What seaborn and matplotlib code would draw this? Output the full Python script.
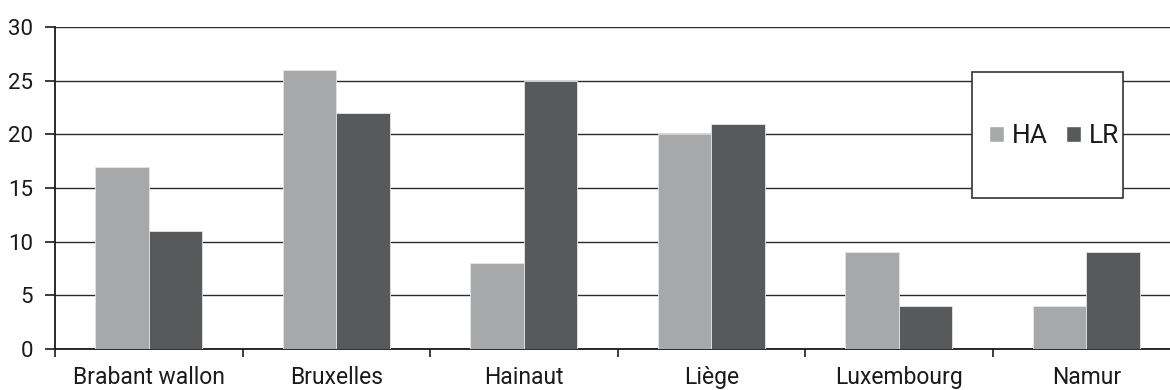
import matplotlib
matplotlib.use("Agg")
import matplotlib.pyplot as plt
import seaborn as sns
import pandas as pd
from matplotlib.patches import Rectangle

provinces = ["Brabant wallon", "Bruxelles", "Hainaut", "Liège", "Luxembourg", "Namur"]
ha_values = [17, 26, 8, 20, 9, 4]
lr_values = [11, 22, 25, 21, 4, 9]
series_names = ["HA", "LR"]
y_ticks = [0, 5, 10, 15, 20, 25, 30]

df = pd.DataFrame({
    "province": provinces * 2,
    "série": [series_names[0]] * len(provinces) + [series_names[1]] * len(provinces),
    "valeur": ha_values + lr_values,
})

sns.set_theme(style="white")
plt.rcParams["font.family"] = ["Roboto", "DejaVu Sans"]

W, H = 1170, 390
fig = plt.figure(figsize=(W / 100, H / 100), dpi=100)
left, right, top, bottom = 55, 1180, 27, 349
ax = fig.add_axes([left / W, 1 - bottom / H, (right - left) / W, (bottom - top) / H])

palette = {"HA": "#a7a8aa", "LR": "#58595b"}
sns.barplot(data=df, x="province", y="valeur", hue="série", palette=palette,
            order=provinces, hue_order=series_names, width=0.57,
            edgecolor="#e6e6e6", linewidth=0.6, saturation=1, ax=ax, zorder=3)

ax.set_xlim(-0.5, len(provinces) - 0.5)
ax.set_ylim(0, 30)
ax.set_yticks(y_ticks)
ax.set_xlabel("")
ax.set_ylabel("")

# horizontal gridlines behind the bars
ax.grid(axis="y", color="#2b2b2b", linewidth=1.0, zorder=0)
ax.set_axisbelow(True)

for s in ["top", "right"]:
    ax.spines[s].set_visible(False)
for s in ["left", "bottom"]:
    ax.spines[s].set_color("#1a1a1a")
    ax.spines[s].set_linewidth(1.3)

# category labels without ticks, boundary ticks between categories
ax.tick_params(axis="x", which="major", length=0, pad=12, labelsize=16.5, labelcolor="#1a1a1a")
ax.set_xticks([i - 0.5 for i in range(len(provinces) + 1)], minor=True)
ax.tick_params(axis="x", which="minor", length=6, width=1.2, color="#1a1a1a", direction="out", bottom=True)
ax.tick_params(axis="y", length=7, width=1.2, color="#1a1a1a", direction="out", left=True,
               labelsize=16, labelcolor="#1a1a1a", pad=9)

# legend inside a framed box
ax.get_legend().remove()
handles = [Rectangle((0, 0), 1, 1, facecolor=palette[n]) for n in series_names]
box_l, box_r, box_t, box_b = 972, 1123, 72, 198
fig.patches.append(Rectangle((box_l / W, 1 - box_b / H), (box_r - box_l) / W, (box_b - box_t) / H,
                             transform=fig.transFigure, facecolor="white",
                             edgecolor="#333333", linewidth=1.2, zorder=5))
leg = fig.legend(handles, series_names, ncol=2, frameon=False, loc="center",
                 bbox_to_anchor=(1054 / W, 1 - 136 / H), fontsize=19,
                 handlelength=0.55, handleheight=0.55, handletextpad=0.3,
                 columnspacing=0.7, borderpad=0)
leg.set_zorder(6)
for t in leg.get_texts():
    t.set_color("#1a1a1a")

fig.savefig("out.png", dpi=100, facecolor="white")
